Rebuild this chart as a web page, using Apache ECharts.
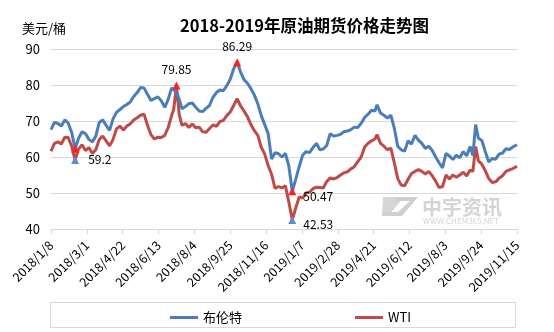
<!DOCTYPE html>
<html>
<head>
<meta charset="utf-8">
<script src="https://cdn.jsdelivr.net/npm/echarts@6/dist/echarts.min.js"></script>
<style>
  html, body { margin: 0; padding: 0; background: #fff; }
  #chart { width: 554px; height: 332px; }
</style>
</head>
<body>
<div id="chart"></div>
<script>
// Sample dates (trading-day snapshots)
const dates = [
  '2018/1/8','2018/1/13','2018/1/18','2018/1/23','2018/1/28','2018/2/2','2018/2/7','2018/2/12','2018/2/17','2018/2/22',
  '2018/2/27','2018/3/4','2018/3/9','2018/3/14','2018/3/19','2018/3/24','2018/3/29','2018/4/3','2018/4/8','2018/4/13',
  '2018/4/18','2018/4/23','2018/4/28','2018/5/3','2018/5/8','2018/5/13','2018/5/18','2018/5/23','2018/5/28','2018/6/2',
  '2018/6/7','2018/6/12','2018/6/17','2018/6/22','2018/6/27','2018/7/2','2018/7/5','2018/7/9','2018/7/13','2018/7/17',
  '2018/7/22','2018/7/27','2018/8/1','2018/8/6','2018/8/11','2018/8/16','2018/8/21','2018/8/26','2018/8/31','2018/9/5',
  '2018/9/10','2018/9/15','2018/9/20','2018/9/25','2018/9/30','2018/10/5','2018/10/10','2018/10/15','2018/10/20','2018/10/25',
  '2018/10/30','2018/11/4','2018/11/9','2018/11/14','2018/11/19','2018/11/24','2018/11/29','2018/12/4','2018/12/9','2018/12/14',
  '2018/12/19','2018/12/24','2018/12/29','2019/1/3','2019/1/8','2019/1/13','2019/1/18','2019/1/23','2019/1/28','2019/2/2',
  '2019/2/7','2019/2/12','2019/2/17','2019/2/22','2019/2/27','2019/3/4','2019/3/9','2019/3/14','2019/3/19','2019/3/24',
  '2019/3/29','2019/4/3','2019/4/8','2019/4/13','2019/4/18','2019/4/23','2019/4/26','2019/5/1','2019/5/6','2019/5/11',
  '2019/5/16','2019/5/21','2019/5/26','2019/5/31','2019/6/5','2019/6/10','2019/6/15','2019/6/20','2019/6/25','2019/6/30',
  '2019/7/5','2019/7/10','2019/7/15','2019/7/20','2019/7/25','2019/7/30','2019/8/4','2019/8/9','2019/8/14','2019/8/19',
  '2019/8/24','2019/8/29','2019/9/3','2019/9/8','2019/9/12','2019/9/16','2019/9/20','2019/9/25','2019/9/30','2019/10/5',
  '2019/10/10','2019/10/15','2019/10/20','2019/10/25','2019/10/30','2019/11/4','2019/11/9','2019/11/15'
];

// 布伦特 (USD/bbl)
const brent = [
  67.6,69.6,69.3,68.6,70.3,69.4,66.8,62.3,65.2,67.0,
  66.5,64.9,64.2,65.8,69.6,70.3,68.8,67.4,70.6,72.4,
  73.2,74.0,74.6,75.3,76.8,77.9,79.3,79.2,77.4,75.7,
  76.2,76.7,75.6,73.8,76.0,79.2,78.6,78.2,76.0,73.4,
  74.0,74.8,75.0,73.8,72.8,72.6,73.5,74.3,76.6,77.9,
  78.6,78.4,79.8,81.6,84.5,86.29,83.6,81.5,80.5,79.0,
  77.2,74.8,71.5,69.0,66.5,59.4,61.2,60.9,60.0,61.0,
  57.5,50.47,53.8,57.3,60.5,61.5,61.2,62.6,63.8,62.0,
  62.2,63.2,66.5,65.8,66.0,66.3,67.0,67.2,67.6,68.3,
  68.2,69.4,71.0,71.9,73.0,72.8,74.5,72.2,71.6,70.8,
  71.6,68.0,63.0,62.0,61.6,64.5,63.6,66.0,64.7,63.8,
  62.4,63.0,61.8,60.0,58.4,57.0,61.0,60.3,59.3,60.5,
  59.8,61.5,60.3,62.9,60.4,69.0,65.2,64.6,61.5,58.6,
  59.6,59.4,60.8,61.1,62.3,62.1,62.8,63.4
];

// WTI (USD/bbl)
const wti = [
  61.6,63.8,64.2,63.6,65.5,65.4,63.0,59.2,62.2,63.4,
  61.8,62.6,61.0,62.0,64.9,65.8,64.5,63.1,64.9,67.8,
  68.6,67.5,68.6,69.2,70.3,70.9,71.6,71.9,68.8,66.2,
  65.0,65.5,65.4,66.0,68.2,71.5,73.2,79.85,71.8,68.8,
  69.3,68.2,69.2,68.1,68.3,67.0,66.9,67.9,68.9,68.5,
  69.8,70.2,71.5,72.5,74.3,76.2,74.2,72.8,71.2,69.0,
  67.3,66.0,62.7,60.8,57.6,55.2,51.3,51.8,51.4,52.0,
  47.5,42.53,45.8,48.9,48.6,50.0,50.2,51.2,51.6,51.5,
  51.4,53.2,54.2,53.9,54.3,55.0,55.6,55.9,56.7,57.3,
  58.7,60.0,62.8,63.8,64.5,65.0,66.2,63.8,63.0,62.0,
  62.5,58.4,54.0,52.2,52.0,53.8,55.4,56.0,56.5,56.0,
  55.3,56.0,54.8,53.3,51.5,51.8,55.0,53.9,55.0,54.4,
  55.0,55.8,54.7,56.4,56.0,62.9,58.9,58.0,56.2,54.0,
  52.9,53.1,54.1,54.8,56.0,56.4,56.8,57.4
];

const DAY = 86400000;
const START = Date.UTC(2018, 0, 8);
function dayOffset(s) {
  const p = s.split('/').map(Number);
  return Math.round((Date.UTC(p[0], p[1] - 1, p[2]) - START) / DAY);
}
function dateLabel(off) {
  const t = new Date(START + off * DAY);
  return t.getUTCFullYear() + '/' + (t.getUTCMonth() + 1) + '/' + t.getUTCDate();
}
const xs = dates.map(dayOffset);
const lastDay = xs[xs.length - 1];
const brentData = brent.map((v, i) => [xs[i], v]);
const wtiData = wti.map((v, i) => [xs[i], v]);

// points highlighted with triangles
function pt(arr, date, color, labelPos, offset, showLabel) {
  const i = dates.indexOf(date);
  return {
    coord: [xs[i], arr[i]],
    value: arr[i],
    itemStyle: { color: color },
    label: { show: showLabel, position: labelPos, offset: offset || [0, 0] }
  };
}

const FONT = '"Noto Sans CJK SC", "Microsoft YaHei", sans-serif';
const BLUE = '#4a7ebb';
const RED = '#be4b48';

const chart = echarts.init(document.getElementById('chart'), null, { renderer: 'canvas' });
chart.setOption({
  animation: false,
  backgroundColor: '#ffffff',
  title: {
    text: '2018-2019年原油期货价格走势图',
    left: 175,
    top: 12,
    textStyle: { fontFamily: FONT, fontSize: 16.5, fontWeight: 'bold', color: '#000' }
  },
  grid: { left: 51, right: 37, top: 49, bottom: 103, containLabel: false },
  legend: {
    left: 165,
    top: 306,
    itemGap: 113,
    icon: 'rect',
    itemWidth: 28,
    itemHeight: 3,
    textStyle: { fontFamily: FONT, fontSize: 13, color: '#000' },
    data: ['布伦特', 'WTI']
  },
  xAxis: {
    type: 'value',
    min: 0,
    max: lastDay,
    interval: 52,
    splitLine: { show: false },
    axisLine: { show: true, lineStyle: { color: '#d9d9d9', width: 1 } },
    axisTick: { show: true, length: 5, lineStyle: { color: '#d9d9d9' } },
    axisLabel: {
      rotate: 45,
      margin: 14,
      fontFamily: FONT,
      fontSize: 12.5,
      color: '#000',
      formatter: v => dateLabel(v)
    }
  },
  yAxis: {
    type: 'value',
    min: 40,
    max: 90,
    interval: 10,
    axisLine: { show: false },
    axisTick: { show: false },
    splitLine: { lineStyle: { color: '#d9d9d9', width: 1 } },
    axisLabel: { margin: 11, fontFamily: FONT, fontSize: 13, color: '#000' }
  },
  graphic: [
    {
      type: 'text', left: 22, top: 22, z: 10,
      style: { text: '美元/桶', font: '13px ' + FONT, fill: '#000' }
    },
    {
      type: 'rect', z: 0,
      shape: { x: 50.5, y: 302.5, width: 465, height: 25 },
      style: { fill: 'none', stroke: '#d9d9d9', lineWidth: 1 }
    },
    // watermark
    {
      type: 'polygon', z: 0,
      shape: { points: [[383, 197], [404, 197], [388, 216], [382, 216]] },
      style: { fill: '#d6d6d6' }
    },
    {
      type: 'polygon', z: 0,
      shape: { points: [[395, 197], [418, 197], [402, 216], [382, 216], [386, 212], [398, 212], [410, 201], [392, 201]] },
      style: { fill: '#cfcfcf' }
    },
    {
      type: 'text', left: 422, top: 197, z: 0,
      style: { text: '中宇资讯', font: 'bold 20px ' + FONT, fill: '#d4d4d4' }
    },
    {
      type: 'text', left: 423, top: 217, z: 0,
      style: { text: 'WWW.CHEM365.NET', font: '8px ' + FONT, fill: '#d4d4d4' }
    }
  ],
  series: [
    {
      name: '布伦特',
      type: 'line',
      data: brentData,
      showSymbol: false,
      color: BLUE,
      lineStyle: { width: 3, color: BLUE },
      z: 3,
      markPoint: {
        symbol: 'triangle',
        symbolSize: 8,
        label: { color: '#000', fontFamily: FONT, fontSize: 12, formatter: '{c}' },
        data: [
          pt(brent, '2018/2/12', '#ff1f1f', 'top', [0, 0], false),
          pt(brent, '2018/10/5', '#ff1f1f', 'top', [0, -1], true),
          pt(brent, '2018/12/24', '#ff1f1f', 'right', [2, 5], true)
        ]
      }
    },
    {
      name: 'WTI',
      type: 'line',
      data: wtiData,
      showSymbol: false,
      color: RED,
      lineStyle: { width: 3, color: RED },
      z: 2,
      markPoint: {
        symbol: 'triangle',
        symbolSize: 8,
        label: { color: '#000', fontFamily: FONT, fontSize: 12, formatter: '{c}' },
        data: [
          pt(wti, '2018/2/12', '#5b8fd0', 'right', [4, 0], true),
          pt(wti, '2018/7/9', '#ff1f1f', 'top', [0, -1], true),
          pt(wti, '2018/12/24', '#5b8fd0', 'right', [2, 5], true)
        ]
      }
    }
  ]
});
</script>
</body>
</html>
